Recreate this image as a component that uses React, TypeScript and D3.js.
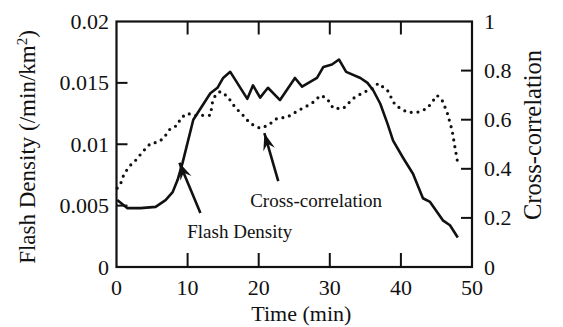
import React from "react";
import * as d3 from "d3";

// Time axis (minutes)
const timeTicks = [0, 10, 20, 30, 40, 50];
const densityTicks = [0, 0.005, 0.01, 0.015, 0.02];
const densityTickLabels = ["0", "0.005", "0.01", "0.015", "0.02"];
const corrTicks = [0, 0.2, 0.4, 0.6, 0.8, 1];
const corrTickLabels = ["0", "0.2", "0.4", "0.6", "0.8", "1"];

// Flash density (/min/km^2) vs time
const flashTime = [0.1, 1.5, 3.4, 5.5, 6.9, 7.9, 8.6, 9.3, 10.8, 13.2, 14.2, 15.0, 16.0, 18.4, 19.2, 20.2, 21.3, 23.0, 25.1, 26.1, 28.2, 29.1, 30.3, 31.3, 32.3, 34.3, 35.3, 36.1, 37.1, 38.1, 38.9, 40.3, 41.7, 43.1, 44.1, 45.9, 46.9, 48.0];
const flashDensity = [0.00545, 0.0048, 0.0048, 0.0049, 0.00545, 0.0061, 0.0071, 0.0085, 0.012, 0.01415, 0.0146, 0.0154, 0.0159, 0.0137, 0.0148, 0.0138, 0.0146, 0.0136, 0.0154, 0.0147, 0.0154, 0.0163, 0.0165, 0.0169, 0.0159, 0.0154, 0.015, 0.0144, 0.0133, 0.0117, 0.0103, 0.0089, 0.0076, 0.0056, 0.0053, 0.0038, 0.0034, 0.0024];

// Cross-correlation vs time
const corrTime = [0.1, 0.6, 1.0, 1.7, 2.7, 3.7, 4.8, 5.8, 6.6, 7.6, 8.6, 9.0, 10.0, 10.8, 11.8, 13.2, 13.5, 13.9, 14.6, 15.6, 16.7, 17.8, 18.8, 20.2, 21.3, 22.6, 24.0, 25.6, 27.5, 28.7, 29.6, 30.5, 31.9, 33.3, 34.7, 36.1, 36.8, 38.1, 39.2, 40.9, 42.3, 43.7, 45.1, 45.8, 46.5, 47.2, 47.6, 48.0];
const crossCorr = [0.321, 0.341, 0.374, 0.407, 0.435, 0.47, 0.504, 0.508, 0.524, 0.565, 0.577, 0.606, 0.626, 0.618, 0.618, 0.618, 0.671, 0.699, 0.715, 0.695, 0.65, 0.618, 0.585, 0.565, 0.577, 0.606, 0.61, 0.638, 0.667, 0.699, 0.687, 0.646, 0.646, 0.687, 0.711, 0.728, 0.748, 0.72, 0.659, 0.63, 0.63, 0.646, 0.699, 0.679, 0.63, 0.557, 0.488, 0.423];

const W = 563;
const H = 327;
const FONT = "'Liberation Serif', 'Times New Roman', serif";

export default function App() {
  const x = d3.scaleLinear().domain([0, 50]).range([116.5, 472]);
  const yL = d3.scaleLinear().domain([0, 0.02]).range([267, 21.5]);
  const yR = d3.scaleLinear().domain([0, 1]).range([267, 21.5]);

  const flashPts: [number, number][] = flashTime.map((t, i) => [t, flashDensity[i]]);
  const corrPts: [number, number][] = corrTime.map((t, i) => [t, crossCorr[i]]);

  const flashLine = d3.line<[number, number]>().x((d) => x(d[0])).y((d) => yL(d[1]))(flashPts) || "";
  const corrLine = d3.line<[number, number]>().x((d) => x(d[0])).y((d) => yR(d[1]))(corrPts) || "";

  // annotation arrows: tail -> tip, in data units
  const flashArrow = { x1: x(11.8), y1: yL(0.0044), x2: x(8.85), y2: yL(0.0085) };
  const corrArrow = { x1: x(22.75), y1: yR(0.35), x2: x(20.8), y2: yR(0.545) };

  const arrowHead = (a: { x1: number; y1: number; x2: number; y2: number }) => {
    const ang = Math.atan2(a.y2 - a.y1, a.x2 - a.x1);
    const len = 17;
    const half = 6;
    const bx = a.x2 - len * Math.cos(ang);
    const by = a.y2 - len * Math.sin(ang);
    const px = -Math.sin(ang) * half;
    const py = Math.cos(ang) * half;
    const notchX = a.x2 - len * 0.65 * Math.cos(ang);
    const notchY = a.y2 - len * 0.65 * Math.sin(ang);
    return `M${a.x2},${a.y2}L${bx + px},${by + py}L${notchX},${notchY}L${bx - px},${by - py}Z`;
  };

  const [x0, x1] = x.range();
  const [yb, yt] = yL.range();

  return (
    <svg width={W} height={H} style={{ position: "absolute", left: 0, top: 0, background: "#fff" }} fontFamily={FONT}>
      {/* frame */}
      <rect x={x0} y={yt} width={x1 - x0} height={yb - yt} fill="none" stroke="#111" strokeWidth={2.2} />

      {/* time ticks, top and bottom, pointing inward */}
      {timeTicks.filter((t) => t > 0 && t < 50).map((t) => (
        <g key={"xt" + t}>
          <line x1={x(t)} x2={x(t)} y1={yb} y2={yb - 14} stroke="#111" strokeWidth={2} />
          <line x1={x(t)} x2={x(t)} y1={yt} y2={yt + 13} stroke="#111" strokeWidth={2} />
        </g>
      ))}
      {timeTicks.map((t) => (
        <text key={"xl" + t} x={x(t)} y={295} fontSize={22} textAnchor="middle" fill="#111">
          {t}
        </text>
      ))}
      <text x={x(26)} y={321} fontSize={22} textAnchor="middle" fill="#111">
        Time (min)
      </text>

      {/* left axis: flash density */}
      {densityTicks.filter((v) => v > 0 && v < 0.02).map((v) => (
        <line key={"lt" + v} x1={x0} x2={x0 + 11} y1={yL(v)} y2={yL(v)} stroke="#111" strokeWidth={2} />
      ))}
      {densityTicks.map((v, i) => (
        <text key={"ll" + v} x={109} y={yL(v) + 7.5} fontSize={22} textAnchor="end" fill="#111">
          {densityTickLabels[i]}
        </text>
      ))}
      <text transform={`translate(35,147) rotate(-90)`} fontSize={23} textAnchor="middle" fill="#111">
        Flash Density (/min/km<tspan dy={-8} fontSize={15}>2</tspan><tspan dy={8}>)</tspan>
      </text>

      {/* right axis: cross-correlation */}
      {corrTicks.filter((v) => v > 0 && v < 1).map((v) => (
        <line key={"rt" + v} x1={x1} x2={x1 - 11} y1={yR(v)} y2={yR(v)} stroke="#111" strokeWidth={2} />
      ))}
      {corrTicks.map((v, i) => (
        <text key={"rl" + v} x={484} y={yR(v) + 7.5} fontSize={22} textAnchor="start" fill="#111">
          {corrTickLabels[i]}
        </text>
      ))}
      <text transform={`translate(541,135) rotate(-90)`} fontSize={24.5} textAnchor="middle" fill="#111">
        Cross-correlation
      </text>

      {/* series */}
      <path d={corrLine} fill="none" stroke="#111" strokeWidth={3.2} strokeLinecap="round" strokeDasharray="0 6.8" />
      <path d={flashLine} fill="none" stroke="#111" strokeWidth={2.6} strokeLinejoin="round" />

      {/* annotations */}
      <line x1={flashArrow.x1} y1={flashArrow.y1} x2={flashArrow.x2} y2={flashArrow.y2} stroke="#111" strokeWidth={2.6} />
      <path d={arrowHead(flashArrow)} fill="#111" />
      <line x1={corrArrow.x1} y1={corrArrow.y1} x2={corrArrow.x2} y2={corrArrow.y2} stroke="#111" strokeWidth={2.6} />
      <path d={arrowHead(corrArrow)} fill="#111" />

      <text x={x(18.8)} y={yR(0.244)} fontSize={19} fill="#111">
        Cross-correlation
      </text>
      <text x={x(9.95)} y={yL(0.00238)} fontSize={19} fill="#111">
        Flash Density
      </text>
    </svg>
  );
}
